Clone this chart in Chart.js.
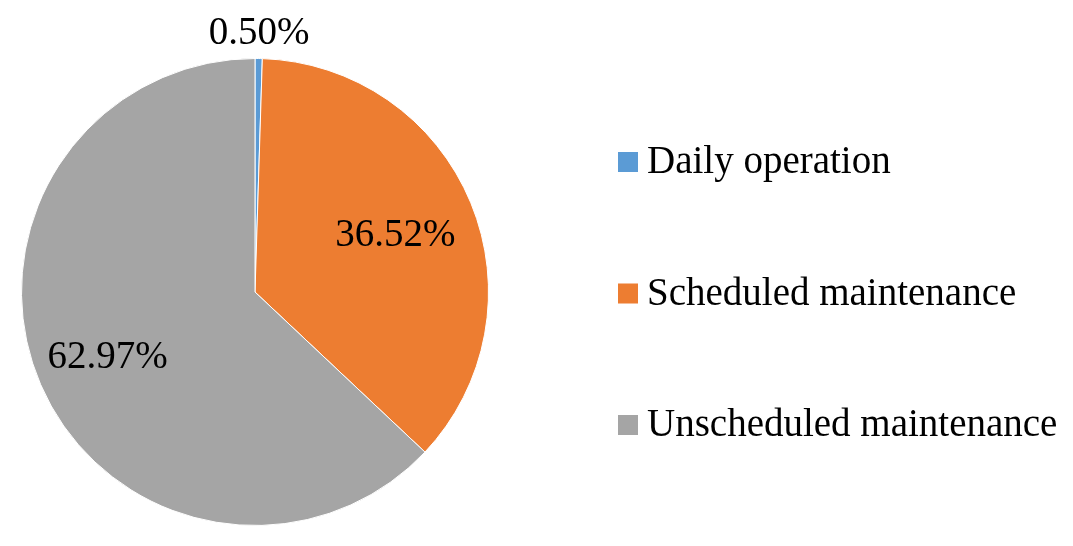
<!DOCTYPE html>
<html>
<head>
<meta charset="utf-8">
<script src="https://cdn.jsdelivr.net/npm/chart.js@4/dist/chart.umd.min.js"></script>
<style>
html,body{margin:0;padding:0;background:#fff;}
#wrap{width:1073px;height:546px;position:relative;}
</style>
</head>
<body>
<div id="wrap"><canvas id="pie"></canvas></div>
<script>
'use strict';
const CATS=['Daily operation','Scheduled maintenance','Unscheduled maintenance'];
const VALS=[0.50,36.52,62.97];
const LBLS=['0.50%','36.52%','62.97%'];
const COLS=['#5b9bd5','#ed7d31','#a5a5a5'];
const FONT='"Liberation Serif","Times New Roman",serif';
// label distance from centre, as share of radius
const LPOS=[1.115,0.65,0.688];

const pieLabels={id:'pieLabels',afterDatasetsDraw(c){
  const ctx=c.ctx,meta=c.getDatasetMeta(0);
  ctx.save();ctx.font='39px '+FONT;ctx.fillStyle='#000';ctx.textAlign='center';ctx.textBaseline='middle';
  meta.data.forEach((arc,i)=>{
    const a=(arc.startAngle+arc.endAngle)/2,r=arc.outerRadius*LPOS[i];
    ctx.fillText(LBLS[i],arc.x+Math.cos(a)*r,arc.y+Math.sin(a)*r+2);
  });
  ctx.restore();
}};
const sideLegend={id:'sideLegend',afterDraw(c){
  const ctx=c.ctx;ctx.save();ctx.font='39px '+FONT;ctx.textBaseline='middle';ctx.textAlign='left';
  CATS.forEach((t,i)=>{
    const y=162+i*131.5;
    ctx.fillStyle=COLS[i];ctx.fillRect(618,y-10,20,20);
    ctx.fillStyle='#000';ctx.fillText(t,647,y+1);
  });
  ctx.restore();
}};

new Chart(document.getElementById('pie'),{
  type:'pie',
  data:{labels:CATS,datasets:[{data:VALS,backgroundColor:COLS,borderColor:'#fff',borderWidth:1}]},
  options:{responsive:true,maintainAspectRatio:false,animation:false,
    layout:{padding:{left:21,right:584,top:58,bottom:20}},
    plugins:{legend:{display:false},tooltip:{enabled:false}}},
  plugins:[pieLabels,sideLegend]
});
</script>
</body>
</html>
